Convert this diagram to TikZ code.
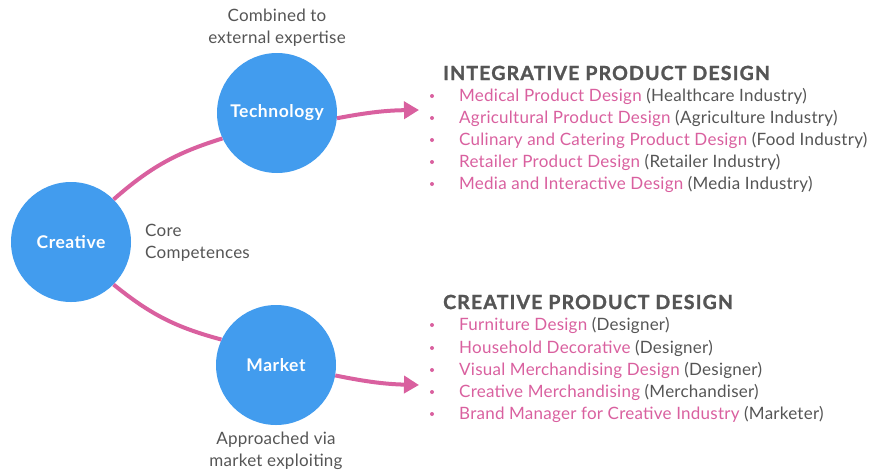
\documentclass[tikz,border=0pt]{standalone}
\usepackage{fontspec}
\setmainfont{Lato}
\usetikzlibrary{arrows.meta}
\definecolor{cblue}{HTML}{429CEE}
\definecolor{cpink}{HTML}{D9609F}
\definecolor{tgray}{HTML}{555555}
\tikzset{
  circ/.style={circle,fill=cblue,minimum size=120pt,inner sep=0pt,text=white,font=\bfseries\fontsize{17.5}{18}\selectfont\addfontfeatures{LetterSpace=3}},
  lbl/.style={text=tgray,font=\fontsize{17}{22}\selectfont\addfontfeatures{LetterSpace=1.5},align=center,inner sep=0pt},
  conn/.style={draw=cpink,line width=4pt},
  arr/.style={conn,-{Triangle[length=15pt,width=17pt]}},
  head/.style={anchor=west,text=tgray,font=\bfseries\fontsize{19.5}{20}\selectfont\addfontfeatures{LetterSpace=6,FakeBold=1.5},inner sep=0pt},
  item/.style={anchor=west,text=cpink,font=\fontsize{17}{18}\selectfont\addfontfeatures{LetterSpace=1.5},inner sep=0pt},
  dot/.style={circle,fill=cpink,inner sep=0pt,minimum size=4pt}
}
\newcommand{\gr}[1]{\textcolor{tgray}{#1}}
\begin{document}
\begin{tikzpicture}[x=1pt,y=-1pt]
\useasboundingbox (0,0) rectangle (880,472);
\node[circ] (cr) at (71,242) {Creative};
\node[circ] (te) at (277,113) {Technology};
\node[circ] (ma) at (276,365) {Market};
\node[lbl] (l1) at (277,28) {Combined to\\external expertise};
\node[lbl,align=left,anchor=west] (l2) at (145,243) {Core\\Competences};
\node[lbl] (l3) at (276,451) {Approached via\\market exploiting};
\coordinate (t1) at (419,110);
\coordinate (t2) at (419,385);
\draw[conn] (cr.45) to[bend left=12] (te.205);
\draw[conn] (cr.-45) to[bend right=12] (ma.155);
\draw[arr] (te.-5) to[bend left=5] (t1);
\draw[arr] (ma.-10) to[bend right=5] (t2);
% block 1
\node[head] (h1) at (443,73) {INTEGRATIVE PRODUCT DESIGN};
\foreach \y/\t/\g [count=\i] in {96/Medical Product Design/Healthcare Industry,118/Agricultural Product Design/Agriculture Industry,140/Culinary and Catering Product Design/Food Industry,162/Retailer Product Design/Retailer Industry,184/Media and Interactive Design/Media Industry}{
  \node[dot] (a\i) at (432,\y) {};
  \node[item] (ai\i) at (459,\y) {\t{} \gr{(\g)}};
}
% block 2
\node[head] (h2) at (443,302) {CREATIVE PRODUCT DESIGN};
\foreach \y/\t/\g [count=\i] in {325/Furniture Design/Designer,348/Household Decorative/Designer,370/Visual Merchandising Design/Designer,392/Creative Merchandising/Merchandiser,414/Brand Manager for Creative Industry/Marketer}{
  \node[dot] (b\i) at (432,\y) {};
  \node[item] (bi\i) at (459,\y) {\t{} \gr{(\g)}};
}
\end{tikzpicture}
\end{document}
